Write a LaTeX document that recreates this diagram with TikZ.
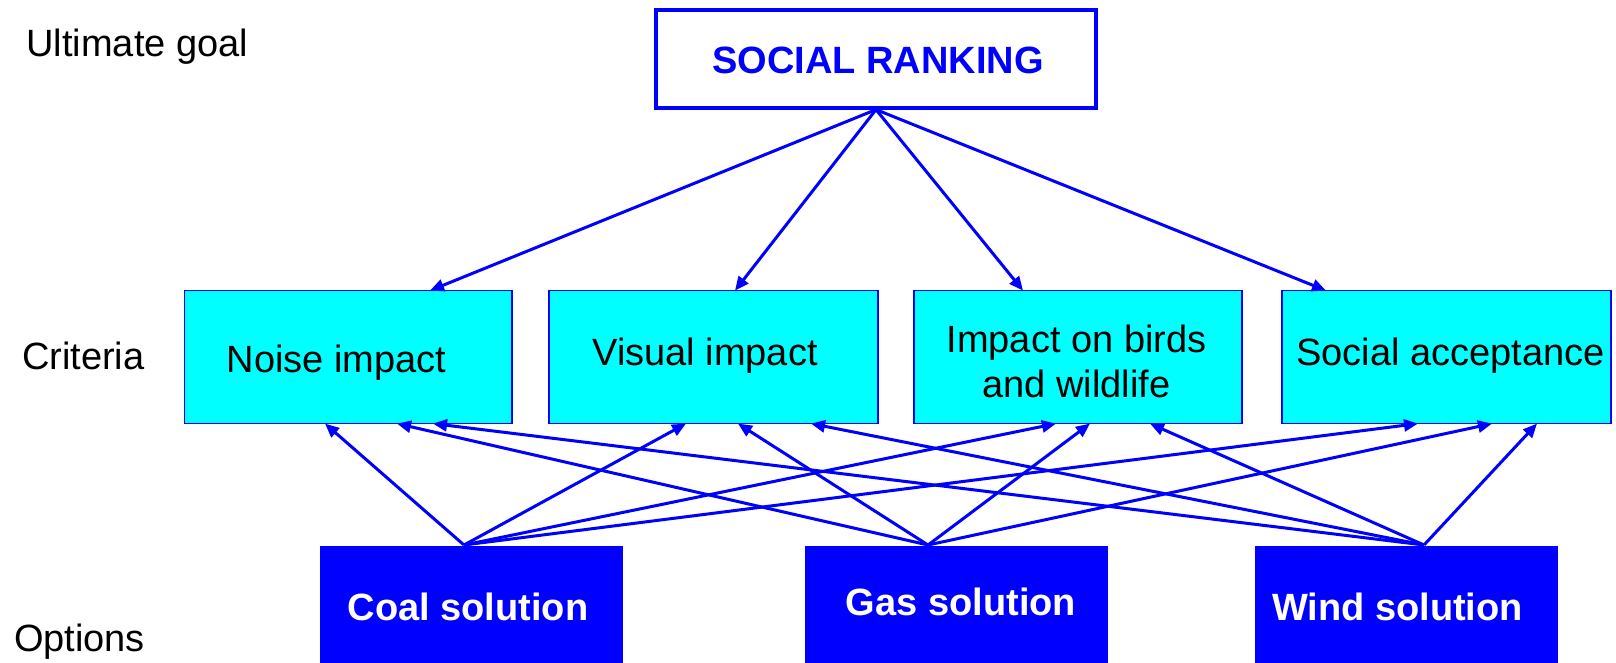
\documentclass[tikz,border=0pt]{standalone}
\usepackage{fontspec}
\setmainfont{Liberation Sans}
\usetikzlibrary{arrows.meta,calc}
\definecolor{pblue}{RGB}{0,0,255}
\definecolor{pcyan}{RGB}{0,255,255}
\begin{document}
\begin{tikzpicture}[x=1pt,y=-1pt,
  txt/.style={font=\fontsize{38}{45.6}\selectfont, inner sep=0pt, anchor=base, text=black},
  btxt/.style={font=\fontsize{38}{45.6}\selectfont\bfseries, inner sep=0pt, anchor=base},
  goalbox/.style={draw=pblue, line width=3.2pt, fill=white, rectangle, inner sep=0pt},
  critbox/.style={draw=pblue, line width=1.5pt, fill=pcyan, rectangle, inner sep=0pt},
  optbox/.style={fill=pblue, draw=none, rectangle, inner sep=0pt},
  arr/.style={draw=pblue, line width=3pt, -{Triangle[length=14pt,width=12pt]}}]
\useasboundingbox (0,0) rectangle (1616,663);

% boxes
\node[goalbox, minimum width=440pt, minimum height=98pt] (goal) at (876,59) {};
\node[critbox, minimum width=327.5pt, minimum height=133pt] (noise) at (348.25,357.1) {};
\node[critbox, minimum width=329pt, minimum height=133pt] (visual) at (713.5,357.1) {};
\node[critbox, minimum width=328pt, minimum height=133pt] (birds) at (1078,357.1) {};
\node[critbox, minimum width=329pt, minimum height=133pt] (social) at (1446.5,357.1) {};
\node[optbox, minimum width=303pt, minimum height=117pt] (coal) at (471,604.5) {};
\node[optbox, minimum width=303pt, minimum height=117pt] (gas) at (956.5,604.5) {};
\node[optbox, minimum width=303pt, minimum height=117pt] (wind) at (1406.5,604.5) {};

% texts
\node[txt] (lgoal) at (137.3,57) {Ultimate goal};
\node[txt] (lcrit) at (83.3,369) {Criteria};
\node[txt] (lopt) at (79.5,651) {Options};
\node[btxt, text=pblue] (tgoal) at (878,74) {SOCIAL RANKING};
\node[txt] (tnoise) at (336.5,372) {Noise impact};
\node[txt] (tvisual) at (705,365) {Visual impact};
\node[txt, anchor=south, align=center] (tbirds) at (1076.5,398.3) {Impact on birds\\and wildlife};
\node[txt] (tsocial) at (1450.5,365) {Social acceptance};
\node[btxt, text=white] (tcoal) at (468,620) {Coal solution};
\node[btxt, text=white] (tgas) at (961,615) {Gas solution};
\node[btxt, text=white] (twind) at (1397.5,620) {Wind solution};

% arrow end points
\coordinate (oc) at (464,545);
\coordinate (og) at (928,545);
\coordinate (ow) at (1424,545);
\coordinate (gN) at (430,290.6);
\coordinate (gV) at (735,290.6);
\coordinate (gB) at (1023,290.6);
\coordinate (gS) at (1326,290.6);
\coordinate (cN) at (325,423.6);
\coordinate (cV) at (686,423.6);
\coordinate (cB) at (1056,423.6);
\coordinate (cS) at (1418,423.6);
\coordinate (sN) at (397,423.6);
\coordinate (sV) at (738,423.6);
\coordinate (sB) at (1090,423.6);
\coordinate (sS) at (1492,423.6);
\coordinate (wN) at (433,423.6);
\coordinate (wV) at (811,423.6);
\coordinate (wB) at (1150,423.6);
\coordinate (wS) at (1537,423.6);

% goal to criteria
\draw[arr] (goal.south) -- (gN);
\draw[arr] (goal.south) -- (gV);
\draw[arr] (goal.south) -- (gB);
\draw[arr] (goal.south) -- (gS);
% options to criteria
\foreach \o/\p in {oc/c, og/s, ow/w}{
  \draw[arr] (\o) -- (\p N);
  \draw[arr] (\o) -- (\p V);
  \draw[arr] (\o) -- (\p B);
  \draw[arr] (\o) -- (\p S);
}
\end{tikzpicture}
\end{document}
